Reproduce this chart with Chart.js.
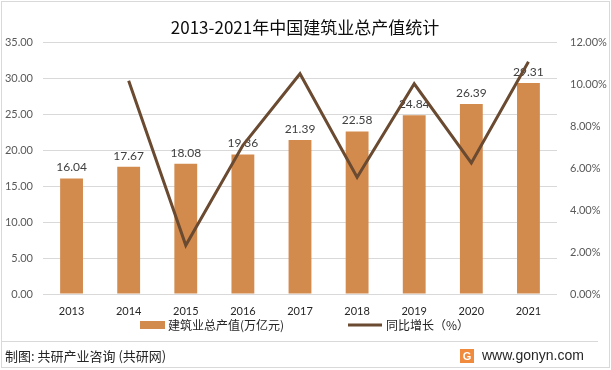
<!DOCTYPE html>
<html>
<head>
<meta charset="utf-8">
<script src="https://cdn.jsdelivr.net/npm/chart.js@4.4.0/dist/chart.umd.min.js"></script>
<style>
  html, body { margin: 0; padding: 0; background: #fff; }
  #wrap { width: 611px; height: 370px; position: relative; }
</style>
</head>
<body>
<div id="wrap"><canvas id="chart" width="611" height="370"></canvas></div>
<script>
// Data
const years = ['2013', '2014', '2015', '2016', '2017', '2018', '2019', '2020', '2021'];
const outputValues = [16.04, 17.67, 18.08, 19.36, 21.39, 22.58, 24.84, 26.39, 29.31];
const growthRates = [null, 10.16, 2.32, 7.08, 10.49, 5.56, 10.01, 6.24, 11.06];
const leftTicks = [0, 5, 10, 15, 20, 25, 30, 35];
const rightTicks = [0, 2, 4, 6, 8, 10, 12];

const titleText = '2013-2021年中国建筑业总产值统计';
const barLabel = '建筑业总产值(万亿元)';
const lineLabel = '同比增长（%）';
const footerLeft = '制图: 共研产业咨询 (共研网)';
const footerRight = 'www.gonyn.com';

const barColor = '#D38B4D';
const lineColor = '#6A4A30';
const tickColor = '#595959';
const gridColor = '#D9D9D9';
const tickFont = { family: 'Lato, "Liberation Sans", sans-serif', size: 11 };
const cjk = '"Noto Sans CJK SC", "Noto Sans", sans-serif';

// Title, legend, footer, bar value labels
const decorPlugin = {
    id: 'decor',
    afterDatasetDraw(chart, args) {
        if (args.index !== 0) return;
        const ctx = chart.ctx;
        const meta = chart.getDatasetMeta(0);
        ctx.save();
        ctx.fillStyle = '#404040';
        ctx.font = '12px Lato, "Liberation Sans", sans-serif';
        ctx.textAlign = 'center';
        ctx.textBaseline = 'bottom';
        meta.data.forEach((bar, i) => {
            ctx.fillText(outputValues[i].toFixed(2), bar.x, bar.y - 5);
        });
        ctx.restore();
    },
    afterDraw(chart) {
        const ctx = chart.ctx;
        ctx.save();

        // outer frame
        ctx.strokeStyle = '#D9D9D9';
        ctx.lineWidth = 1;
        ctx.strokeRect(1.5, 1.5, 608, 366);

        // title
        ctx.fillStyle = '#0d0d0d';
        ctx.font = '17px ' + cjk;
        ctx.textAlign = 'center';
        ctx.textBaseline = 'middle';
        ctx.fillText(titleText, 305, 28);

        // legend
        ctx.font = '12px ' + cjk;
        ctx.textAlign = 'left';
        ctx.fillStyle = barColor;
        ctx.fillRect(140, 321, 25, 8);
        ctx.fillStyle = '#262626';
        ctx.fillText(barLabel, 168, 325);
        ctx.strokeStyle = lineColor;
        ctx.lineWidth = 3;
        ctx.beginPath();
        ctx.moveTo(348, 325);
        ctx.lineTo(382, 325);
        ctx.stroke();
        ctx.fillText(lineLabel, 386, 325);

        // footer
        ctx.strokeStyle = '#D9D9D9';
        ctx.lineWidth = 1;
        ctx.beginPath();
        ctx.moveTo(2, 341.5);
        ctx.lineTo(598, 341.5);
        ctx.stroke();
        ctx.fillStyle = '#262626';
        ctx.font = '13px ' + cjk;
        ctx.fillText(footerLeft, 5, 356);
        ctx.fillStyle = '#F08A3C';
        ctx.fillRect(460, 349, 14, 14);
        ctx.fillStyle = '#fff';
        ctx.font = 'bold 11px "Liberation Sans", sans-serif';
        ctx.textAlign = 'center';
        ctx.fillText('G', 467, 356.5);
        ctx.fillStyle = '#262626';
        ctx.font = '14px "Liberation Sans", sans-serif';
        ctx.textAlign = 'left';
        ctx.fillText(footerRight, 482, 356);

        ctx.restore();
    }
};

new Chart(document.getElementById('chart'), {
    type: 'bar',
    data: {
        labels: years,
        datasets: [
            {
                type: 'bar',
                label: barLabel,
                data: outputValues,
                backgroundColor: barColor,
                borderWidth: 0,
                barPercentage: 0.4,
                categoryPercentage: 1.0,
                yAxisID: 'y',
                order: 1
            },
            {
                type: 'line',
                label: lineLabel,
                data: growthRates,
                borderColor: lineColor,
                borderWidth: 3,
                pointRadius: 0,
                tension: 0,
                yAxisID: 'y1',
                order: 0
            }
        ]
    },
    options: {
        responsive: false,
        animation: false,
        layout: { padding: { top: 42, left: 0, right: 0, bottom: 0 } },
        plugins: {
            legend: { display: false },
            title: { display: false },
            tooltip: { enabled: false }
        },
        scales: {
            x: {
                grid: { display: false },
                border: { display: false },
                ticks: { color: '#262626', font: { family: tickFont.family, size: 11 }, padding: 3 },
                afterFit(scale) { scale.height = 76; }
            },
            y: {
                position: 'left',
                min: 0,
                max: 35,
                afterBuildTicks(scale) { scale.ticks = leftTicks.map(v => ({ value: v })); },
                ticks: {
                    color: tickColor,
                    font: tickFont,
                    padding: 10,
                    callback: v => Number(v).toFixed(2)
                },
                grid: { color: gridColor, drawTicks: false },
                border: { display: false },
                afterFit(scale) { scale.width = 43; }
            },
            y1: {
                position: 'right',
                min: 0,
                max: 12,
                afterBuildTicks(scale) { scale.ticks = rightTicks.map(v => ({ value: v })); },
                ticks: {
                    color: tickColor,
                    font: tickFont,
                    padding: 13,
                    callback: v => Number(v).toFixed(2) + '%'
                },
                grid: { display: false, drawTicks: false },
                border: { display: false },
                afterFit(scale) { scale.width = 54; }
            }
        }
    },
    plugins: [decorPlugin]
});
</script>
</body>
</html>
